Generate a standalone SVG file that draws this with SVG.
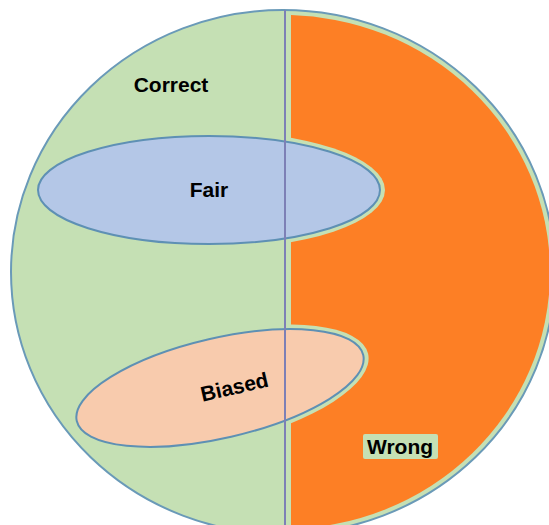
<svg xmlns="http://www.w3.org/2000/svg" width="549" height="525" viewBox="0 0 549 525">
<style>
.lbl{font-family:"Liberation Sans",Arial,sans-serif;font-weight:bold;font-size:21px;fill:#000;text-anchor:middle}
.green{fill:#c5e0b4}
.oval{stroke:#5e90b4;stroke-width:2}
</style>
<defs>
<clipPath id="rightHalf"><rect x="291" y="0" width="260" height="525"/></clipPath>
</defs>
<rect width="549" height="525" fill="#fff"/>
<g id="correct">
<ellipse cx="283" cy="272" rx="272" ry="262" class="green" stroke="#6a9ab8" stroke-width="2"/>
</g>
<g id="wrong">
<ellipse cx="283" cy="272" rx="267" ry="257" fill="#fd7f25" clip-path="url(#rightHalf)"/>
<ellipse cx="209" cy="190" rx="176" ry="59" class="green"/>
<ellipse cx="220" cy="388" rx="152" ry="55" transform="rotate(-13 220 388)" class="green"/>
<rect x="363" y="434" width="75" height="25" rx="2" class="green"/>
</g>
<g id="fair">
<ellipse cx="209" cy="190" rx="171" ry="54" fill="#b4c7e7" class="oval"/>
</g>
<g id="biased">
<ellipse cx="220" cy="388" rx="147" ry="50" transform="rotate(-13 220 388)" fill="#f8cbad" class="oval"/>
</g>
<g id="divider">
<line x1="285" y1="10" x2="285" y2="525" stroke="#7d80b6" stroke-width="2"/>
</g>
<g id="labels">
<text class="lbl" x="171" y="92">Correct</text>
<text class="lbl" x="209" y="197">Fair</text>
<text class="lbl" x="236" y="394" transform="rotate(-13 236 394)">Biased</text>
<text class="lbl" x="400" y="454">Wrong</text>
</g>
</svg>
